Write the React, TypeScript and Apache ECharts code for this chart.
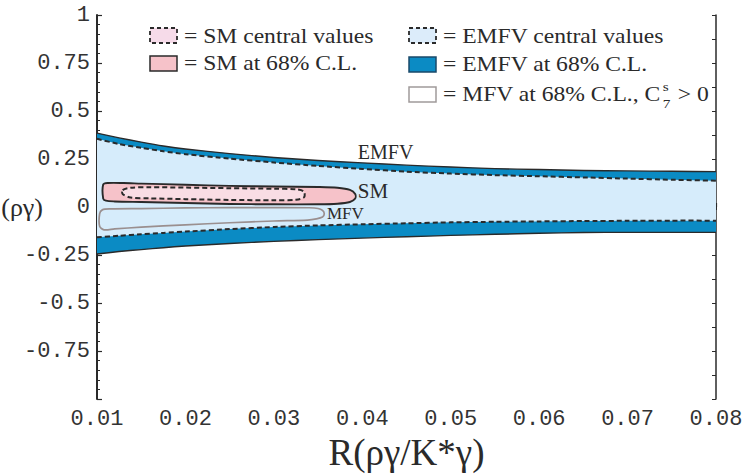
import React, { useEffect, useRef } from "react";
import * as echarts from "echarts";

// Axis ranges
const X_MIN = 0.01;
const X_MAX = 0.08;
const X_STEP = 0.01;
const Y_MIN = -1;
const Y_MAX = 1;
const Y_STEP = 0.25;

// EMFV bands (sampled along R)
const bandX = [0.01, 0.0125, 0.015, 0.0175, 0.02, 0.025, 0.03, 0.035, 0.04, 0.045, 0.05, 0.055, 0.06, 0.065, 0.07, 0.075, 0.08];
const emfvOuterUpper = [0.385, 0.36, 0.338, 0.318, 0.302, 0.278, 0.258, 0.242, 0.23, 0.218, 0.208, 0.2, 0.195, 0.19, 0.188, 0.186, 0.184];
const emfvInnerUpper = [0.355, 0.328, 0.308, 0.29, 0.275, 0.252, 0.232, 0.214, 0.198, 0.184, 0.174, 0.166, 0.16, 0.154, 0.148, 0.142, 0.137];
const emfvInnerLower = [-0.158, -0.15, -0.142, -0.135, -0.128, -0.115, -0.104, -0.096, -0.09, -0.085, -0.08, -0.077, -0.075, -0.073, -0.072, -0.071, -0.071];
const emfvOuterLower = [-0.245, -0.232, -0.222, -0.212, -0.203, -0.19, -0.179, -0.17, -0.162, -0.155, -0.148, -0.142, -0.137, -0.133, -0.132, -0.132, -0.132];

// SM at 68% C.L. contour (closed)
const sm68X = [0.0107, 0.0112, 0.013, 0.015, 0.02, 0.025, 0.03, 0.035, 0.0372, 0.0386, 0.0392, 0.0392, 0.0386, 0.0372, 0.035, 0.03, 0.025, 0.02, 0.015, 0.012, 0.011, 0.0107];
const sm68Y = [0.117, 0.125, 0.125, 0.122, 0.116, 0.11, 0.107, 0.104, 0.1, 0.089, 0.068, 0.044, 0.026, 0.017, 0.014, 0.014, 0.016, 0.021, 0.026, 0.029, 0.033, 0.044];

// SM central values contour (closed)
const smCentralX = [0.0129, 0.0138, 0.016, 0.02, 0.025, 0.03, 0.0325, 0.0334, 0.0334, 0.0325, 0.03, 0.025, 0.02, 0.016, 0.0138, 0.0129];
const smCentralY = [0.088, 0.1, 0.103, 0.101, 0.098, 0.095, 0.092, 0.08, 0.05, 0.038, 0.035, 0.037, 0.041, 0.045, 0.049, 0.068];

// MFV at 68% C.L., C7s > 0 contour (closed)
const mfvX = [0.0103, 0.0106, 0.0115, 0.015, 0.02, 0.025, 0.03, 0.034, 0.035, 0.0355, 0.0357, 0.0355, 0.0348, 0.0338, 0.03, 0.025, 0.02, 0.015, 0.012, 0.0108, 0.0103];
const mfvY = [-0.035, -0.015, -0.01, -0.008, -0.005, -0.003, -0.003, -0.004, -0.008, -0.018, -0.035, -0.052, -0.062, -0.068, -0.073, -0.082, -0.093, -0.105, -0.114, -0.119, -0.1];

// In-plot region labels
const labelNames = ["EMFV", "SM", "MFV"];
const labelX = [0.0395, 0.0395, 0.036];
const labelY = [0.284, 0.083, -0.036];
const labelSizes = [20, 21, 17];

const DARK_BLUE = "#0b8bc4";
const LIGHT_BLUE = "#d6ecfb";
const PINK = "#f6c2c9";
const LIGHT_PINK = "#f9dde4";
const INK = "#2a2a2a";
const SERIF = '"Liberation Serif", "Times New Roman", serif';
const MONO = '"Liberation Mono", "Courier New", monospace';
const LEGEND_SCALE = 1.18;

function pts(api: any, xs: number[], ys: number[]) {
  return xs.map((x, i) => api.coord([x, ys[i]]));
}

function measure(text: string, font: string) {
  const c = document.createElement("canvas").getContext("2d");
  if (!c) return text.length * 9;
  c.font = font;
  return c.measureText(text).width;
}

export default function App() {
  const ref = useRef<HTMLDivElement>(null);

  useEffect(() => {
    if (!ref.current) return;
    const chart = echarts.init(ref.current, null, { renderer: "svg" });

    const legendFont = `20px ${SERIF}`;
    const mfvText = "= MFV at 68% C.L., C";
    const mfvW = measure(mfvText, legendFont) * LEGEND_SCALE;

    const legendText = (x: number, y: number, text: string, size = 20) => ({
      type: "text",
      x,
      y,
      scaleX: LEGEND_SCALE,
      style: { text, fill: INK, fontSize: size, fontFamily: SERIF, align: "left", verticalAlign: "middle" },
    });
    const legendRect = (x: number, y: number, fill: string, stroke: string, dashed: boolean) => ({
      type: "rect",
      shape: { x, y, width: 27, height: 15 },
      style: { fill, stroke, lineWidth: dashed ? 1.8 : 1.5, lineDash: dashed ? [4, 3] : null },
    });

    const option: any = {
      animation: false,
      backgroundColor: "#ffffff",
      grid: { left: 97, right: 30, top: 15, bottom: 76, containLabel: false, outerBoundsMode: "none" },
      xAxis: [
        {
          type: "value",
          position: "bottom",
          min: X_MIN,
          max: X_MAX,
          interval: X_STEP,
          name: "R(ργ/K*γ)",
          nameLocation: "middle",
          nameGap: 35,
          nameMoveOverlap: false,
          nameTextStyle: { fontFamily: SERIF, fontSize: 37, color: INK },
          axisLine: { show: true, lineStyle: { color: INK, width: 1.5 } },
          axisTick: { show: true, inside: true, length: 4, lineStyle: { color: INK, width: 1.2 } },
          minorTick: { show: true, splitNumber: 5, length: 2.5, lineStyle: { color: INK, width: 1 } },
          splitLine: { show: false },
          axisLabel: {
            margin: 9,
            fontFamily: MONO,
            fontSize: 22,
            color: "#333",
            formatter: (v: number) => v.toFixed(2),
          },
        },
        {
          type: "value",
          position: "top",
          min: X_MIN,
          max: X_MAX,
          interval: 0.002,
          axisLine: { show: true, lineStyle: { color: INK, width: 1.5 } },
          axisTick: { show: true, inside: true, length: 3, lineStyle: { color: INK, width: 1 } },
          axisLabel: { show: false },
          splitLine: { show: false },
        },
      ],
      yAxis: [
        {
          type: "value",
          position: "left",
          min: Y_MIN,
          max: Y_MAX,
          interval: Y_STEP,
          name: "(ργ)",
          nameLocation: "middle",
          nameRotate: 0,
          nameGap: 54,
          nameMoveOverlap: false,
          nameTextStyle: { fontFamily: SERIF, fontSize: 26, color: INK },
          axisLine: { show: true, lineStyle: { color: INK, width: 2 } },
          axisTick: { show: true, inside: true, length: 5, lineStyle: { color: INK, width: 1.2 } },
          minorTick: { show: true, splitNumber: 5, length: 3, lineStyle: { color: INK, width: 1 } },
          splitLine: { show: false },
          axisLabel: {
            margin: 7,
            fontFamily: MONO,
            fontSize: 22,
            color: "#333",
            formatter: (v: number) => (Math.abs(v - Y_MIN) < 1e-9 ? "" : String(Math.round(v * 100) / 100)),
          },
        },
        {
          type: "value",
          position: "right",
          min: Y_MIN,
          max: Y_MAX,
          interval: 0.125,
          axisLine: { show: true, lineStyle: { color: INK, width: 1.5 } },
          axisTick: { show: true, inside: true, length: 4, lineStyle: { color: INK, width: 1 } },
          axisLabel: { show: false },
          splitLine: { show: false },
        },
      ],
      series: [
        {
          type: "custom",
          name: "EMFV",
          silent: true,
          xAxisIndex: 0,
          yAxisIndex: 0,
          data: [[X_MIN, 0]],
          renderItem: (params: any, api: any) => {
            const ou = pts(api, bandX, emfvOuterUpper);
            const ol = pts(api, bandX, emfvOuterLower);
            const iu = pts(api, bandX, emfvInnerUpper);
            const il = pts(api, bandX, emfvInnerLower);
            return {
              type: "group",
              children: [
                { type: "polygon", shape: { points: ou.concat(ol.slice().reverse()) }, style: { fill: DARK_BLUE, stroke: null } },
                { type: "polyline", shape: { points: ou, smooth: 0.2 }, style: { fill: null, stroke: INK, lineWidth: 1.4 } },
                { type: "polyline", shape: { points: ol, smooth: 0.2 }, style: { fill: null, stroke: INK, lineWidth: 1.4 } },
                { type: "polygon", shape: { points: iu.concat(il.slice().reverse()) }, style: { fill: LIGHT_BLUE, stroke: null } },
                { type: "polyline", shape: { points: iu, smooth: 0.2 }, style: { fill: null, stroke: "#2a2a2a", lineWidth: 2, lineDash: [5, 3] } },
                { type: "polyline", shape: { points: il, smooth: 0.2 }, style: { fill: null, stroke: "#2a2a2a", lineWidth: 2, lineDash: [5, 3] } },
              ],
            };
          },
        },
        {
          type: "custom",
          name: "SM & MFV",
          silent: true,
          xAxisIndex: 0,
          yAxisIndex: 0,
          data: [[X_MIN, 0]],
          renderItem: (params: any, api: any) => {
            return {
              type: "group",
              children: [
                { type: "polygon", shape: { points: pts(api, mfvX, mfvY), smooth: 0.3 }, style: { fill: null, stroke: "#9a8f8f", lineWidth: 1.7 } },
                { type: "polygon", shape: { points: pts(api, sm68X, sm68Y), smooth: 0.3 }, style: { fill: PINK, stroke: INK, lineWidth: 1.9 } },
                { type: "polygon", shape: { points: pts(api, smCentralX, smCentralY), smooth: 0.3 }, style: { fill: LIGHT_PINK, stroke: "#2a2a2a", lineWidth: 2, lineDash: [5, 3] } },
              ],
            };
          },
        },
        {
          type: "custom",
          name: "labels",
          silent: true,
          xAxisIndex: 0,
          yAxisIndex: 0,
          data: labelX.map((x, i) => [x, labelY[i], i]),
          renderItem: (params: any, api: any) => {
            const i = params.dataIndex;
            const p = api.coord([api.value(0), api.value(1)]);
            return {
              type: "text",
              x: p[0],
              y: p[1],
              style: { text: labelNames[i], fill: INK, fontSize: labelSizes[i], fontFamily: SERIF, align: "left", verticalAlign: "middle" },
            };
          },
        },
      ],
      graphic: [
        {
          type: "group",
          silent: true,
          children: [
            legendRect(150, 28, "#f6dbe9", INK, true),
            legendText(184, 37, "= SM central values"),
            legendRect(150, 56, PINK, INK, false),
            legendText(184, 64, "= SM at 68% C.L."),
            legendRect(409, 28, "#dcecfa", INK, true),
            legendText(443, 37, "= EMFV central values"),
            legendRect(409, 57, DARK_BLUE, "#1a4a6a", false),
            legendText(443, 65, "= EMFV at 68% C.L."),
            legendRect(409, 87, "#ffffff", "#a09a9a", false),
            legendText(443, 95, mfvText),
            legendText(443 + mfvW + 2, 86, "s", 13),
            legendText(443 + mfvW + 2, 103, "7", 13),
            legendText(443 + mfvW + 11, 95, " > 0"),
          ],
        },
      ],
    };

    chart.setOption(option);
    return () => chart.dispose();
  }, []);

  return (
    <div
      ref={ref}
      style={{ position: "fixed", left: 0, top: 0, width: 746, height: 475, background: "#fff" }}
    />
  );
}
